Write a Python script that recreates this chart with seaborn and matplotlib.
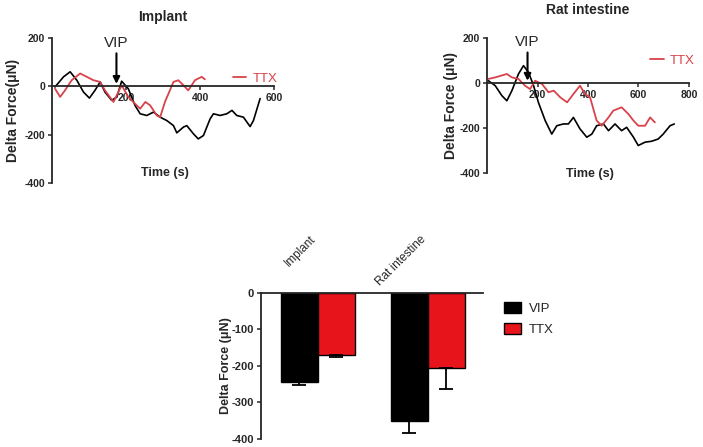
import numpy as np
import pandas as pd
import matplotlib
matplotlib.use("Agg")
import matplotlib.pyplot as plt
import seaborn as sns

sns.set_style("ticks")
plt.rcParams['font.family'] = ['Liberation Sans', 'DejaVu Sans']
plt.rcParams['axes.unicode_minus'] = False

# traces (time in s, delta force in uN)
imp_vip_t = [8, 31, 49, 67, 85, 101, 116, 130, 143, 161, 175, 188, 206, 224, 238, 256, 274, 292, 310,
             328, 337, 355, 364, 382, 395, 409, 427, 436, 454, 472, 486, 499, 517, 535, 544, 562]
imp_vip_f = [-3, 39, 60, 25, -24, -49, -17, 18, -24, -58, -45, 21, -10, -79, -114, -121, -107, -128, -142,
             -163, -193, -169, -163, -197, -218, -204, -135, -114, -121, -114, -100, -121, -128, -167, -142, -51]
imp_ttx_t = [8, 22, 35, 53, 76, 94, 112, 130, 143, 166, 179, 188, 206, 224, 238, 252, 265, 283, 292,
             305, 328, 341, 355, 368, 386, 404, 413]
imp_ttx_f = [-10, -44, -17, 25, 53, 39, 25, 18, -17, -65, -24, 4, -44, -72, -93, -65, -79, -121, -128,
             -65, 18, 25, 4, -17, 25, 39, 29]

rat_vip_t = [5, 32, 58, 78, 98, 124, 144, 164, 184, 203, 230, 256, 276, 302, 322, 342, 368, 395, 415, 434,
             461, 481, 507, 533, 553, 580, 599, 626, 652, 678, 698, 725, 742]
rat_vip_f = [10, -12, -56, -79, -34, 40, 77, 47, -12, -86, -167, -227, -190, -182, -182, -153, -204, -241, -227, -190,
             -182, -212, -182, -212, -197, -241, -278, -263, -259, -249, -227, -190, -182]
rat_ttx_t = [5, 32, 78, 98, 124, 150, 170, 190, 217, 243, 264, 290, 317, 342, 368, 388, 408, 434, 454, 481,
             500, 533, 560, 580, 599, 626, 646, 665]
rat_ttx_f = [18, 25, 40, 25, 18, -12, -27, 10, -4, -41, -34, -64, -86, -49, -12, -49, -64, -167, -190, -153,
             -123, -108, -138, -167, -190, -190, -153, -175]

# bar summary
groups = ['Implant', 'Rat intestine']
treatments = ['VIP', 'TTX']
bar_means = {'VIP': [-243, -352], 'TTX': [-171, -207]}
bar_err = {'VIP': [9, 31], 'TTX': [6, 57]}

black = '#000000'
red_line = '#d8424a'
red_bar = '#e8141b'

fig = plt.figure(figsize=(7.03, 4.47), dpi=100)
ax1 = fig.add_axes([0.074, 0.591, 0.316, 0.324])
ax2 = fig.add_axes([0.693, 0.613, 0.287, 0.302])
ax3 = fig.add_axes([0.371, 0.018, 0.316, 0.327])


def trace_panel(ax, vt, vf, tt, tf, xmax, xticks, title, title_pad, vip_x, leg_xy, xlab_y):
    sns.lineplot(x=vt, y=vf, ax=ax, color=black, lw=1.2, sort=False)
    sns.lineplot(x=tt, y=tf, ax=ax, color=red_line, lw=1.3, sort=False, label='TTX')
    ax.set_xlim(0, xmax)
    ax.set_ylim(-400, 200)
    ax.spines['top'].set_visible(False)
    ax.spines['right'].set_visible(False)
    ax.spines['bottom'].set_position(('data', 0))
    ax.spines['bottom'].set_linewidth(1.3)
    ax.spines['left'].set_linewidth(1.3)
    ax.set_xticks(xticks)
    ax.set_yticks([200, 0, -200, -400])
    ax.tick_params(axis='both', labelsize=7.5, width=1.1, length=3, pad=2)
    for lb in ax.get_xticklabels() + ax.get_yticklabels():
        lb.set_fontweight('bold')
    ax.set_title(title, fontsize=10, fontweight='bold', pad=title_pad)
    ax.set_xlabel('Time (s)', fontsize=9, fontweight='bold')
    ax.xaxis.set_label_coords(0.51, xlab_y)
    ax.annotate('VIP', xy=(vip_x, 10), xytext=(vip_x, 150), ha='center', va='bottom',
                fontsize=11, arrowprops=dict(arrowstyle='-|>', color=black, lw=1.5,
                                             mutation_scale=10, shrinkA=0, shrinkB=0))
    ax.legend(loc='center left', bbox_to_anchor=leg_xy, frameon=False, fontsize=9.5,
              handlelength=1.0, handletextpad=0.5, labelcolor='linecolor')


trace_panel(ax1, imp_vip_t, imp_vip_f, imp_ttx_t, imp_ttx_f, 600, [200, 400, 600],
            'Implant', 12, 174, (0.76, 0.72), 0.11)
ax1.set_ylabel('Delta Force(\u03bcN)', fontsize=10, fontweight='bold')
ax1.yaxis.set_label_coords(-0.145, 0.5)

trace_panel(ax2, rat_vip_t, rat_vip_f, rat_ttx_t, rat_ttx_f, 800, [200, 400, 600, 800],
            'Rat intestine', 17, 160, (0.75, 0.83), 0.04)
ax2.set_ylabel('Delta Force (\u03bcN)', fontsize=10, fontweight='bold')
ax2.yaxis.set_label_coords(-0.145, 0.5)

# bar chart
rows = []
for tr in treatments:
    for g, m, e in zip(groups, bar_means[tr], bar_err[tr]):
        rows.append({'group': g, 'treatment': tr, 'force': m, 'err': e})
df = pd.DataFrame(rows)

sns.barplot(data=df, x='group', y='force', hue='treatment', hue_order=treatments,
            palette=[black, red_bar], saturation=1, width=0.67, errorbar=None, ax=ax3,
            edgecolor=black, linewidth=1.0)
for patch, (_, r) in zip(ax3.patches, df.iterrows()):
    cx = patch.get_x() + patch.get_width() / 2
    ax3.errorbar(cx, r['force'], yerr=[[r['err']], [0]], color=black, capsize=5,
                 elinewidth=1.3, capthick=1.3)

ax3.set_xlim(-0.518, 1.5)
ax3.set_ylim(-400, 0)
ax3.set_yticks([0, -100, -200, -300, -400])
ax3.spines['bottom'].set_visible(False)
ax3.spines['right'].set_visible(False)
ax3.spines['top'].set_linewidth(1.3)
ax3.spines['left'].set_linewidth(1.3)
ax3.xaxis.tick_top()
ax3.tick_params(axis='x', length=0, labelsize=8.5, pad=43)
ax3.tick_params(axis='y', labelsize=8, width=1.1, length=3, pad=2)
for lb in ax3.get_yticklabels():
    lb.set_fontweight('bold')
for lb in ax3.get_xticklabels():
    lb.set_rotation(45)
    lb.set_ha('right')
    lb.set_va('top')
ax3.set_xlabel('')
ax3.set_ylabel('Delta Force (\u03bcN)', fontsize=9, fontweight='bold')
ax3.yaxis.set_label_coords(-0.13, 0.5)
ax3.legend(loc='upper left', bbox_to_anchor=(1.04, 1.02), frameon=False, fontsize=9.5,
           handlelength=1.3, handleheight=0.9, handletextpad=0.6, labelspacing=0.6)

fig.savefig('out.png', dpi=100)
